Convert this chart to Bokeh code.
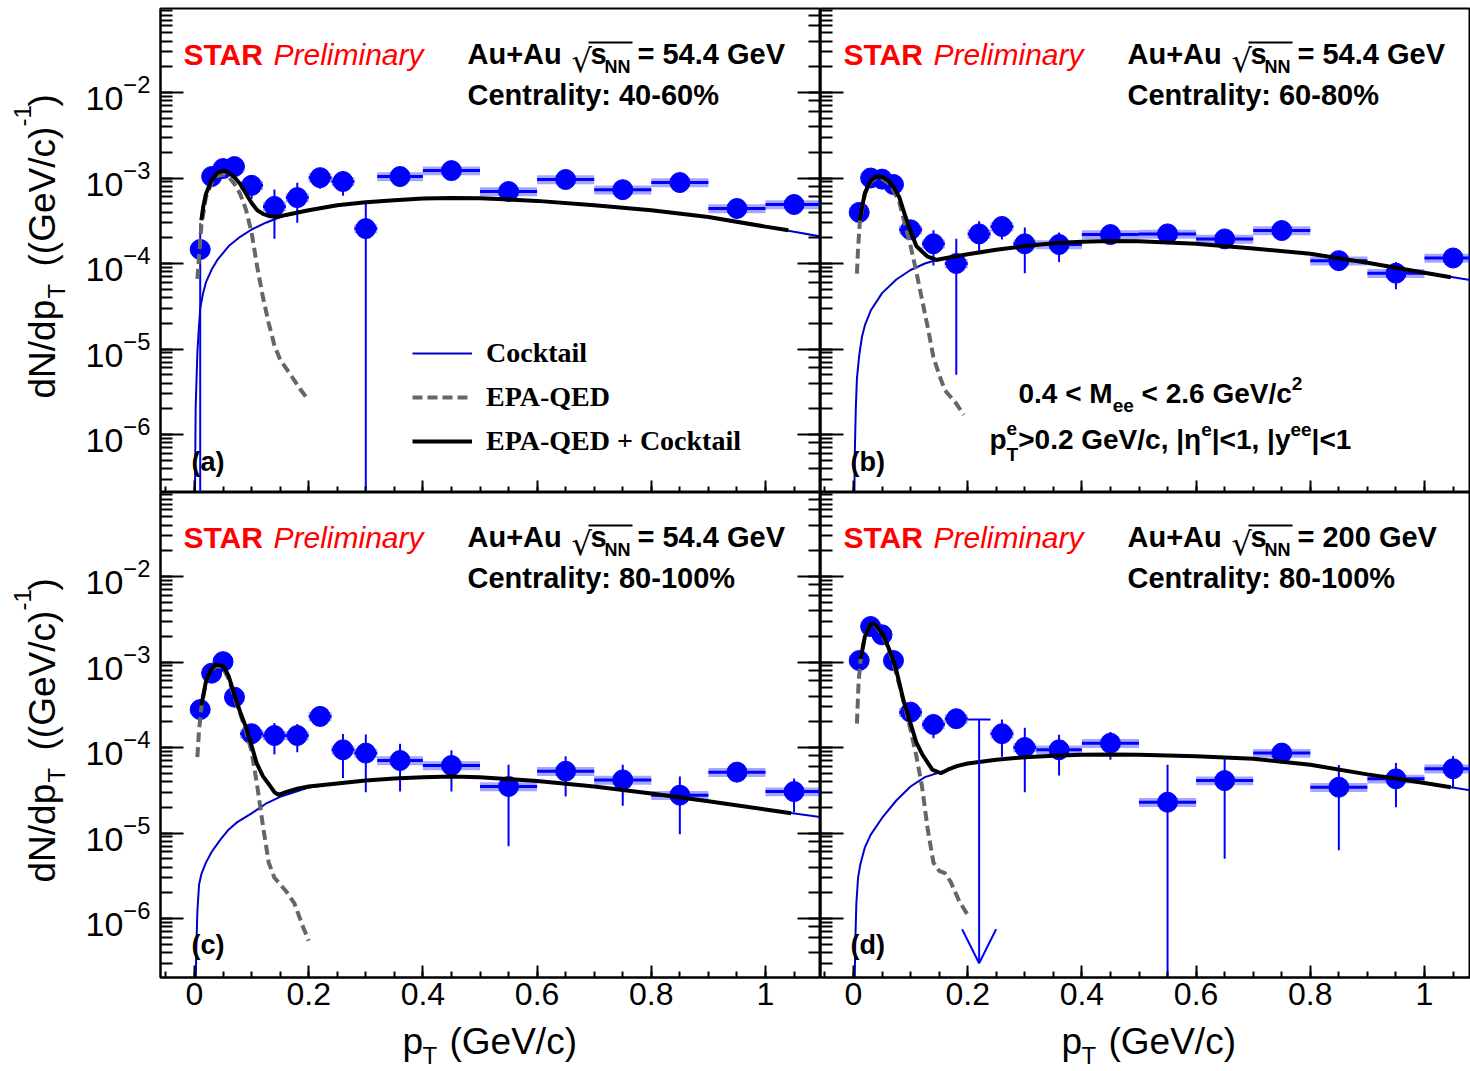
import math
from bokeh.plotting import figure
from bokeh.layouts import column, row
from bokeh.models import (Label, LogAxis, FixedTicker, LogTicker, Range1d, Legend,
                          LegendItem, Arrow, OpenHead, NumeralTickFormatter,
                          CustomJSTickFormatter)
from bokeh.embed import file_html
from bokeh.resources import INLINE

# ---------------- data ----------------
PT = [0.01, 0.03, 0.05, 0.07, 0.10, 0.14, 0.18, 0.22, 0.26, 0.30, 0.36, 0.45,
      0.55, 0.65, 0.75, 0.85, 0.95, 1.05]
PT_HW = [0.01, 0.01, 0.01, 0.01, 0.02, 0.02, 0.02, 0.02, 0.02, 0.02, 0.04, 0.05,
         0.05, 0.05, 0.05, 0.05, 0.05, 0.05]

Y_A = [1.46e-4, 1.04e-3, 1.29e-3, 1.36e-3, 8.2e-4, 4.65e-4, 5.9e-4, 1.01e-3, 9.1e-4,
       2.56e-4, 1.04e-3, 1.22e-3, 6.95e-4, 9.6e-4, 7.3e-4, 8.85e-4, 4.4e-4, 4.9e-4]
ERR_A = [1.5e-4, 1.0e-4, 1.0e-4, 1.0e-4, 2.5e-4, 2.7e-4, 2.9e-4, 2.6e-4, 2.9e-4,
         2.7e-4, 1.0e-4, 0.8e-4, 0.8e-4, 0.9e-4, 0.8e-4, 0.8e-4, 0.6e-4, 0.6e-4]

Y_B = [3.96e-4, 1.0e-3, 9.7e-4, 8.4e-4, 2.48e-4, 1.7e-4, 1.0e-4, 2.22e-4, 2.71e-4,
       1.7e-4, 1.67e-4, 2.18e-4, 2.22e-4, 1.94e-4, 2.43e-4, 1.08e-4, 7.7e-5, 1.16e-4]
ERR_B = [3e-5, 5e-5, 5e-5, 5e-5, 5e-5, 7.5e-5, 9.5e-5, 9e-5, 8e-5, 9.3e-5, 6.3e-5,
         3e-5, 2.5e-5, 2.5e-5, 2.5e-5, 2.5e-5, 2.7e-5, 1.5e-5]

Y_C = [2.78e-4, 7.4e-4, 1.01e-3, 3.88e-4, 1.45e-4, 1.38e-4, 1.38e-4, 2.31e-4, 9.4e-5,
       8.6e-5, 7.05e-5, 6.16e-5, 3.5e-5, 5.28e-5, 4.18e-5, 2.77e-5, 5.15e-5, 3.05e-5]
ERR_C = [3e-5, 5e-5, 6e-5, 4e-5, 3e-5, 5.5e-5, 5e-5, 3e-5, 5e-5, 5.6e-5, 4e-5, 3.1e-5,
         2.8e-5, 2.6e-5, 2.1e-5, 1.8e-5, 1e-5, 1.3e-5]

PT_D = [0.01, 0.03, 0.05, 0.07, 0.10, 0.14, 0.18, 0.26, 0.30, 0.36, 0.45,
        0.55, 0.65, 0.75, 0.85, 0.95, 1.05]
PT_HW_D = [0.01, 0.01, 0.01, 0.01, 0.02, 0.02, 0.02, 0.02, 0.02, 0.04, 0.05,
           0.05, 0.05, 0.05, 0.05, 0.05, 0.05]
Y_D = [1.04e-3, 2.6e-3, 2.08e-3, 1.04e-3, 2.59e-4, 1.86e-4, 2.17e-4, 1.45e-4, 1.0e-4,
       9.4e-5, 1.12e-4, 2.29e-5, 4.1e-5, 8.6e-5, 3.43e-5, 4.3e-5, 5.64e-5]
ERR_D = [8e-5, 1.5e-4, 1.5e-4, 8e-5, 4e-5, 5.8e-5, 4e-5, 6.7e-5, 7e-5, 4.7e-5, 4e-5,
         4e-5, 3.6e-5, 2e-5, 2.8e-5, 2.3e-5, 2.3e-5]
UL_D_X = 0.22
UL_D_HW = 0.02
UL_D_Y = 2.12e-4

SYS_FRAC = 0.12

COCK_A_X = [0.0005, 0.002, 0.005, 0.0075, 0.01, 0.015, 0.02, 0.03, 0.04, 0.06, 0.08, 0.1,
            0.125, 0.15, 0.2, 0.25, 0.3, 0.35, 0.4, 0.45, 0.5, 0.6, 0.7, 0.8, 0.9, 1.0,
            1.05, 1.1]
COCK_A_Y = [1e-7, 2e-6, 9e-6, 1.7e-5, 3e-5, 4.5e-5, 6e-5, 8.5e-5, 1.1e-4, 1.6e-4, 2.05e-4,
            2.5e-4, 3.0e-4, 3.5e-4, 4.2e-4, 4.8e-4, 5.2e-4, 5.5e-4, 5.75e-4, 5.85e-4,
            5.8e-4, 5.4e-4, 4.8e-4, 4.2e-4, 3.5e-4, 2.7e-4, 2.35e-4, 2.05e-4]
EPA_A_X = [0.005, 0.008, 0.012, 0.02, 0.03, 0.04, 0.05, 0.06, 0.07, 0.08, 0.09, 0.1,
           0.11, 0.12, 0.13, 0.14, 0.15, 0.17, 0.185, 0.2]
EPA_A_Y = [6.6e-5, 1.2e-4, 2.8e-4, 6.0e-4, 8.8e-4, 1.05e-3, 1.1e-3, 1.03e-3, 8.5e-4,
           6.5e-4, 4.3e-4, 2.3e-4, 9e-5, 4e-5, 2e-5, 1.1e-5, 7.5e-6, 4.8e-6, 3.4e-6, 2.5e-6]
SUM_A_X = [0.012, 0.015, 0.02, 0.03, 0.04, 0.05, 0.06, 0.07, 0.08, 0.09, 0.1, 0.11, 0.12,
           0.13, 0.145, 0.16, 0.2, 0.25, 0.3, 0.35, 0.4, 0.45, 0.5, 0.6, 0.7, 0.8, 0.9,
           1.0, 1.04]
SUM_A_Y = [3.2e-4, 4.5e-4, 6.5e-4, 9.5e-4, 1.15e-3, 1.22e-3, 1.17e-3, 1.02e-3, 8.5e-4,
           6.6e-4, 5.1e-4, 4.2e-4, 3.8e-4, 3.6e-4, 3.5e-4, 3.7e-4, 4.2e-4, 4.8e-4, 5.2e-4,
           5.5e-4, 5.75e-4, 5.85e-4, 5.8e-4, 5.4e-4, 4.8e-4, 4.2e-4, 3.5e-4, 2.7e-4, 2.45e-4]

COCK_B_X = [0.0005, 0.002, 0.004, 0.006, 0.01, 0.015, 0.02, 0.03, 0.05, 0.075, 0.1, 0.125,
            0.15, 0.2, 0.25, 0.3, 0.35, 0.4, 0.45, 0.5, 0.6, 0.7, 0.8, 0.9, 1.0, 1.05, 1.1]
COCK_B_Y = [1e-8, 5e-7, 2e-6, 4.5e-6, 8.5e-6, 1.4e-5, 1.9e-5, 2.8e-5, 4.5e-5, 6.5e-5,
            8.4e-5, 1.0e-4, 1.12e-4, 1.28e-4, 1.45e-4, 1.6e-4, 1.72e-4, 1.8e-4, 1.83e-4,
            1.82e-4, 1.7e-4, 1.5e-4, 1.3e-4, 1.02e-4, 7.8e-5, 6.9e-5, 6.1e-5]
EPA_B_X = [0.006, 0.008, 0.011, 0.02, 0.03, 0.04, 0.05, 0.06, 0.07, 0.08, 0.09, 0.1, 0.11,
           0.12, 0.13, 0.14, 0.15, 0.16, 0.18, 0.193]
EPA_B_Y = [7.6e-5, 1.5e-4, 3.0e-4, 6.5e-4, 9.0e-4, 1.0e-3, 9.8e-4, 8.8e-4, 7.2e-4, 5.3e-4,
           2.9e-4, 1.6e-4, 8e-5, 3.8e-5, 1.8e-5, 8e-6, 5e-6, 3.3e-6, 2.3e-6, 1.7e-6]
SUM_B_X = [0.011, 0.015, 0.02, 0.03, 0.04, 0.05, 0.06, 0.07, 0.08, 0.09, 0.1, 0.11, 0.12,
           0.13, 0.145, 0.16, 0.2, 0.25, 0.3, 0.35, 0.4, 0.45, 0.5, 0.6, 0.7, 0.8, 0.9,
           1.0, 1.046]
SUM_B_Y = [3.2e-4, 4.6e-4, 6.7e-4, 9.3e-4, 1.05e-3, 1.03e-3, 9.4e-4, 7.9e-4, 6.0e-4,
           3.7e-4, 2.4e-4, 1.6e-4, 1.38e-4, 1.2e-4, 1.1e-4, 1.15e-4, 1.28e-4, 1.45e-4,
           1.6e-4, 1.72e-4, 1.8e-4, 1.83e-4, 1.82e-4, 1.7e-4, 1.5e-4, 1.3e-4, 1.02e-4,
           7.8e-5, 6.9e-5]

COCK_C_X = [0.001, 0.003, 0.005, 0.008, 0.012, 0.02, 0.03, 0.045, 0.06, 0.075, 0.1, 0.125,
            0.15, 0.2, 0.25, 0.3, 0.35, 0.4, 0.45, 0.5, 0.6, 0.7, 0.8, 0.9, 1.0, 1.1]
COCK_C_Y = [5e-8, 4e-7, 1.2e-6, 2.5e-6, 3.3e-6, 4.5e-6, 6e-6, 8.3e-6, 1.1e-5, 1.34e-5,
            1.7e-5, 2.2e-5, 2.65e-5, 3.4e-5, 3.8e-5, 4.1e-5, 4.35e-5, 4.5e-5, 4.57e-5,
            4.5e-5, 4.05e-5, 3.5e-5, 2.9e-5, 2.35e-5, 1.88e-5, 1.52e-5]
EPA_C_X = [0.005, 0.008, 0.012, 0.02, 0.03, 0.04, 0.05, 0.06, 0.07, 0.08, 0.09, 0.1, 0.11,
           0.12, 0.13, 0.14, 0.16, 0.175, 0.19, 0.2]
EPA_C_Y = [7.7e-5, 1.6e-4, 2.95e-4, 5.8e-4, 8.2e-4, 9e-4, 8.4e-4, 6.3e-4, 3.8e-4, 2.5e-4,
           1.55e-4, 9e-5, 3.5e-5, 1.2e-5, 4.5e-6, 3e-6, 2.1e-6, 1.5e-6, 8e-7, 5.5e-7]
SUM_C_X = [0.012, 0.02, 0.03, 0.037, 0.045, 0.052, 0.06, 0.071, 0.08, 0.09, 0.1, 0.109,
           0.12, 0.128, 0.14, 0.147, 0.16, 0.18, 0.2, 0.25, 0.3, 0.35, 0.4, 0.45, 0.5,
           0.6, 0.7, 0.8, 0.9, 1.0, 1.045]
SUM_C_Y = [3.1e-4, 5.9e-4, 8.3e-4, 9.3e-4, 9.2e-4, 8.7e-4, 6.8e-4, 3.9e-4, 2.6e-4, 1.73e-4,
           1.05e-4, 6.5e-5, 4.6e-5, 3.9e-5, 3.0e-5, 2.8e-5, 3.0e-5, 3.3e-5, 3.5e-5, 3.8e-5,
           4.1e-5, 4.35e-5, 4.5e-5, 4.57e-5, 4.5e-5, 4.05e-5, 3.5e-5, 2.9e-5, 2.35e-5,
           1.88e-5, 1.7e-5]

COCK_D_X = [0.001, 0.003, 0.005, 0.008, 0.012, 0.02, 0.03, 0.05, 0.075, 0.1, 0.125, 0.15,
            0.2, 0.25, 0.3, 0.35, 0.4, 0.45, 0.5, 0.6, 0.7, 0.8, 0.9, 1.0, 1.1]
COCK_D_Y = [5e-8, 5e-7, 1.5e-6, 3e-6, 4.3e-6, 6.8e-6, 9.5e-6, 1.5e-5, 2.4e-5, 3.5e-5,
            4.5e-5, 5.1e-5, 6.5e-5, 7.2e-5, 7.7e-5, 8.0e-5, 8.2e-5, 8.3e-5, 8.25e-5, 7.9e-5,
            7.4e-5, 6.3e-5, 4.85e-5, 3.85e-5, 3.0e-5]
EPA_D_X = [0.006, 0.009, 0.0126, 0.02, 0.03, 0.035, 0.04, 0.05, 0.06, 0.07, 0.08, 0.09,
           0.1, 0.11, 0.12, 0.13, 0.14, 0.15, 0.16, 0.17, 0.185, 0.2]
EPA_D_Y = [1.9e-4, 6e-4, 1.08e-3, 2.0e-3, 2.75e-3, 2.8e-3, 2.6e-3, 2.1e-3, 1.5e-3, 9.5e-4,
           5.5e-4, 3.0e-4, 1.6e-4, 8e-5, 3.5e-5, 1.1e-5, 4.5e-6, 3.6e-6, 3.4e-6, 2.7e-6,
           1.6e-6, 1.1e-6]
SUM_D_X = [0.0126, 0.02, 0.03, 0.035, 0.04, 0.051, 0.06, 0.073, 0.0876, 0.1, 0.11, 0.12,
           0.138, 0.153, 0.165, 0.182, 0.2, 0.25, 0.3, 0.35, 0.4, 0.45, 0.5, 0.6, 0.7, 0.8,
           0.9, 1.0, 1.046]
SUM_D_Y = [1.09e-3, 2.0e-3, 2.75e-3, 2.84e-3, 2.65e-3, 2.14e-3, 1.55e-3, 9.1e-4, 3.55e-4,
           1.9e-4, 1.15e-4, 8.4e-5, 5.5e-5, 5.0e-5, 5.5e-5, 6.1e-5, 6.5e-5, 7.2e-5, 7.7e-5,
           8.0e-5, 8.2e-5, 8.3e-5, 8.25e-5, 7.9e-5, 7.4e-5, 6.3e-5, 4.85e-5, 3.85e-5, 3.43e-5]

ENERGY = {"a": "54.4", "b": "54.4", "c": "54.4", "d": "200"}
CENTRALITY = {"a": "40-60%", "b": "60-80%", "c": "80-100%", "d": "80-100%"}
LEGEND_LABELS = ["Cocktail", "EPA-QED", "EPA-QED + Cocktail"]
X_TICKS = [0, 0.2, 0.4, 0.6, 0.8, 1.0]

# ---------------- geometry / style ----------------
PX_PER_UNIT = 571.0
PX_PER_DEC = 85.5
ORIGIN = {"a": (194, 92), "b": (853, 92), "c": (194, 576), "d": (853, 576)}
FRAME_X = {"a": (160, 820), "b": (820, 1470), "c": (160, 820), "d": (820, 1470)}
FRAME_Y = {"a": (8, 492), "b": (8, 492), "c": (492, 977), "d": (492, 977)}
PAGE_H = 1070
YSTRIP_W = 72
BOTTOM_B = 42
BASE_FIX = 0.35   # rendered alphabetic baseline sits this fraction of the size lower
SANS = "Liberation Sans"
SERIF = "Liberation Serif"
BLUE = "#0000ff"
COCK_COLOR = "#0000cc"

# Arial/Liberation Sans Bold advance widths (1/1000 em) for sequential text layout
BOLD_W = {' ': 278, '0': 556, '1': 556, '2': 556, '4': 556, '6': 556, '.': 278,
          '<': 584, '>': 584, 'M': 833, 'G': 778, 'e': 556, 'V': 667, '/': 278,
          'c': 556, ',': 278, '|': 280, 'y': 556, 'p': 611, 'T': 611, '\u03b7': 611}


def text_w(s, size):
    return sum(BOLD_W.get(ch, 556) for ch in s) * size / 1000.0


def ref(panel, px, py):
    """reference-page pixel -> data coordinates of a panel"""
    x0, y0 = ORIGIN[panel]
    return (px - x0) / PX_PER_UNIT, 10 ** (-2 - (py - y0) / PX_PER_DEC)


def label(p, x, y, text, size, style, color, font, angle):
    p.add_layout(Label(x=x, y=y, text=text, text_font=font,
                       text_font_size=f"{size}px", text_font_style=style,
                       text_color=color, text_align="left",
                       text_baseline="alphabetic", angle=angle))


def put(p, panel, px, py, text, size, style="bold", color="black", font=SANS):
    x, y = ref(panel, px, py - BASE_FIX * size)
    label(p, x, y, text, size, style, color, font, 0.0)


def put_strip(s, ox, oy, px, py, text, size, rotated=False):
    if rotated:
        label(s, px - ox - BASE_FIX * size, py - oy, text, size, "normal", "black", SANS,
              math.pi / 2)
    else:
        label(s, px - ox, py - oy - BASE_FIX * size, text, size, "normal", "black", SANS,
              0.0)


def hide_labels(ax):
    ax.formatter = CustomJSTickFormatter(code="return ''")
    ax.major_label_text_font_size = "1px"
    ax.major_label_standoff = 0


def make_fig(panel):
    left = panel in "ac"
    top = panel in "ab"
    x0, y0 = ORIGIN[panel]
    fx0, fx1 = FRAME_X[panel]
    fy0, fy1 = FRAME_Y[panel]
    xr = Range1d((fx0 - x0) / PX_PER_UNIT, (fx1 - x0) / PX_PER_UNIT)
    yr = Range1d(10 ** (-2 - (fy1 - y0) / PX_PER_DEC), 10 ** (-2 + (y0 - fy0) / PX_PER_DEC))
    p = figure(frame_width=fx1 - fx0, frame_height=fy1 - fy0, x_range=xr, y_range=yr,
               y_axis_type="log", output_backend="svg", toolbar_location=None,
               min_border_left=(fx0 - YSTRIP_W) if left else 0, min_border_right=0,
               min_border_top=fy0 if top else 0,
               min_border_bottom=0 if top else BOTTOM_B,
               background_fill_color="white", border_fill_color="white")
    p.xgrid.visible = False
    p.ygrid.visible = False
    p.outline_line_color = "black"
    p.outline_line_width = 2

    xa = p.xaxis[0]
    xa.ticker = FixedTicker(ticks=X_TICKS,
                            minor_ticks=[round(-0.05 + 0.05 * i, 2) for i in range(24)])
    xa.major_tick_in = 12
    xa.major_tick_out = 0
    xa.minor_tick_in = 6
    xa.minor_tick_out = 0
    xa.axis_line_width = 2
    xa.major_tick_line_width = 2
    xa.minor_tick_line_width = 2
    if top:
        hide_labels(xa)
    else:
        xa.formatter = NumeralTickFormatter(format="0.[0]")
        xa.major_label_text_font = SANS
        xa.major_label_text_font_size = "32px"
        xa.major_label_text_color = "black"
        xa.major_label_standoff = 5

    def style_y(ya, labels):
        ya.major_tick_in = 23
        ya.major_tick_out = 0
        ya.minor_tick_in = 12
        ya.minor_tick_out = 0
        ya.axis_line_width = 2
        ya.major_tick_line_width = 2
        ya.minor_tick_line_width = 2
        if labels:
            ya.major_label_text_font = SANS
            ya.major_label_text_font_size = "34px"
            ya.major_label_text_color = "black"
            ya.major_label_standoff = 10
        else:
            hide_labels(ya)

    style_y(p.yaxis[0], left)
    if left:
        ra = LogAxis(ticker=LogTicker())
        style_y(ra, False)
        p.add_layout(ra, "right")
    return p


def make_strip(w, h):
    s = figure(width=w, height=h, x_range=Range1d(0, w), y_range=Range1d(h, 0),
               output_backend="svg", toolbar_location=None, min_border=0,
               background_fill_color="white", border_fill_color="white")
    s.axis.visible = False
    s.grid.visible = False
    s.outline_line_color = None
    return s


def draw_data(p, xs, hws, ys, errs):
    p.quad(left=[x - h for x, h in zip(xs, hws)], right=[x + h for x, h in zip(xs, hws)],
           bottom=[y * (1 - SYS_FRAC) for y in ys], top=[y * (1 + SYS_FRAC) for y in ys],
           fill_color=BLUE, fill_alpha=0.35, line_color=None)
    p.segment(x0=[x - h for x, h in zip(xs, hws)], x1=[x + h for x, h in zip(xs, hws)],
              y0=ys, y1=ys, line_color=BLUE, line_width=3)
    lo = [y - e if y - e > 0 else 1e-12 for y, e in zip(ys, errs)]
    hi = [y + e for y, e in zip(ys, errs)]
    p.segment(x0=xs, x1=xs, y0=lo, y1=hi, line_color=BLUE, line_width=2)
    p.scatter(xs, ys, size=20, marker="circle", fill_color=BLUE, line_color=BLUE)


def draw_curves(p, cx, cy, ex, ey, sx, sy):
    rc = p.line(cx, cy, line_color=COCK_COLOR, line_width=2)
    re = p.line(ex, ey, line_color="#666666", line_width=4, line_dash="10 5")
    rs = p.line(sx, sy, line_color="black", line_width=4)
    return rc, re, rs


def header(p, panel):
    dx = 0 if panel in "ac" else 660
    dy = 0 if panel in "ab" else 483
    put(p, panel, 183 + dx, 64 + dy, "STAR", 30, "bold", "#ff0000")
    put(p, panel, 273 + dx, 64 + dy, "Preliminary", 30, "italic", "#ff0000")
    put(p, panel, 467 + dx, 64 + dy, "Au+Au", 29)
    put(p, panel, 571 + dx, 72 + dy, "\u221a", 32, "normal", font="DejaVu Sans")
    put(p, panel, 590 + dx, 64 + dy, "s", 29)
    put(p, panel, 604 + dx, 73 + dy, "NN", 18)
    put(p, panel, 637 + dx, 64 + dy, "= " + ENERGY[panel] + " GeV", 29)
    xa0, ya0 = ref(panel, 588 + dx, 42 + dy)
    xa1, _ = ref(panel, 632 + dx, 42 + dy)
    p.segment(x0=[xa0], x1=[xa1], y0=[ya0], y1=[ya0], line_color="black", line_width=2)
    put(p, panel, 467 + dx, 105 + dy, "Centrality: " + CENTRALITY[panel], 29)
    put(p, panel, 191 + dx - (0 if panel in "ac" else 1), 471 + dy, "(" + panel + ")", 27)


def seq_text(p, panel, px, base, parts):
    """lay out text fragments one after another; kinds: n, sub, sup, gap, subsup"""
    x = px
    for kind, txt, size in parts:
        if kind == "gap":
            x += text_w(" ", size)
        elif kind == "n":
            put(p, panel, x, base, txt, size)
            x += text_w(txt, size)
        elif kind == "sub":
            put(p, panel, x, base + 9, txt, size)
            x += text_w(txt, size)
        elif kind == "sup":
            put(p, panel, x, base - 13, txt, size)
            x += text_w(txt, size)
        elif kind == "subsup":
            lo, hi = txt
            put(p, panel, x, base + 12, lo, size)
            put(p, panel, x, base - 14, hi, size)
            x += max(text_w(lo, size), text_w(hi, size))


def y_title(s, dy):
    put_strip(s, 0, 0, 55, 398 + dy, "dN/dp", 37, rotated=True)
    put_strip(s, 0, 0, 64, 298 + dy, "T", 24, rotated=True)
    put_strip(s, 0, 0, 55, 266 + dy, "((GeV/c)", 37, rotated=True)
    put_strip(s, 0, 0, 30, 126 + dy, "-1", 24, rotated=True)
    put_strip(s, 0, 0, 55, 106 + dy, ")", 37, rotated=True)


def x_title(s, ox, oy, dx):
    put_strip(s, ox, oy, 402 + dx, 1054, "p", 37)
    put_strip(s, ox, oy, 422 + dx, 1063, "T", 24)
    put_strip(s, ox, oy, 449 + dx, 1054, "(GeV/c)", 37)


# ---------------- panels ----------------
pa = make_fig("a")
draw_data(pa, PT, PT_HW, Y_A, ERR_A)
rc, re, rs = draw_curves(pa, COCK_A_X, COCK_A_Y, EPA_A_X, EPA_A_Y, SUM_A_X, SUM_A_Y)
header(pa, "a")
leg = Legend(items=[LegendItem(label=LEGEND_LABELS[0], renderers=[rc]),
                    LegendItem(label=LEGEND_LABELS[1], renderers=[re]),
                    LegendItem(label=LEGEND_LABELS[2], renderers=[rs])],
             location=(252, 31), orientation="vertical",
             glyph_width=60, glyph_height=40, label_height=40, spacing=4,
             label_standoff=14, padding=0, margin=0,
             border_line_color=None, background_fill_alpha=0.0,
             label_text_font=SERIF, label_text_font_style="bold",
             label_text_font_size="28px", label_text_color="black")
pa.add_layout(leg, "center")

pb = make_fig("b")
draw_data(pb, PT, PT_HW, Y_B, ERR_B)
draw_curves(pb, COCK_B_X, COCK_B_Y, EPA_B_X, EPA_B_Y, SUM_B_X, SUM_B_Y)
header(pb, "b")
seq_text(pb, "b", 1018, 403, [("n", "0.4 < M", 28), ("sub", "ee", 19), ("gap", "", 28),
                              ("n", "< 2.6 GeV/c", 28), ("sup", "2", 19)])
seq_text(pb, "b", 989, 449, [("n", "p", 28), ("subsup", ("T", "e"), 19),
                             ("n", ">0.2 GeV/c, |\u03b7", 28), ("sup", "e", 19),
                             ("n", "|<1, |y", 28), ("sup", "ee", 19), ("n", "|<1", 28)])

pc = make_fig("c")
draw_data(pc, PT, PT_HW, Y_C, ERR_C)
draw_curves(pc, COCK_C_X, COCK_C_Y, EPA_C_X, EPA_C_Y, SUM_C_X, SUM_C_Y)
header(pc, "c")

pd = make_fig("d")
draw_data(pd, PT_D, PT_HW_D, Y_D, ERR_D)
pd.segment(x0=[UL_D_X - UL_D_HW], x1=[UL_D_X + UL_D_HW], y0=[UL_D_Y], y1=[UL_D_Y],
           line_color=BLUE, line_width=2)
pd.add_layout(Arrow(end=OpenHead(size=34, line_color=BLUE, line_width=2),
                    x_start=UL_D_X, y_start=UL_D_Y, x_end=UL_D_X, y_end=3.0e-7,
                    line_color=BLUE, line_width=2))
draw_curves(pd, COCK_D_X, COCK_D_Y, EPA_D_X, EPA_D_Y, SUM_D_X, SUM_D_Y)
header(pd, "d")

# ---------------- axis-title strips ----------------
ystrip = make_strip(YSTRIP_W, PAGE_H)
y_title(ystrip, 0)
y_title(ystrip, 484)

xs_top = FRAME_Y["c"][1] + BOTTOM_B
xstrip = make_strip(1470 - YSTRIP_W, PAGE_H - xs_top)
x_title(xstrip, YSTRIP_W, xs_top, 0)
x_title(xstrip, YSTRIP_W, xs_top, 659)

layout = row(ystrip, column(row(pa, pb), row(pc, pd), xstrip))
open("out.html", "w").write(file_html(layout, INLINE, "dielectron pT spectra"))
